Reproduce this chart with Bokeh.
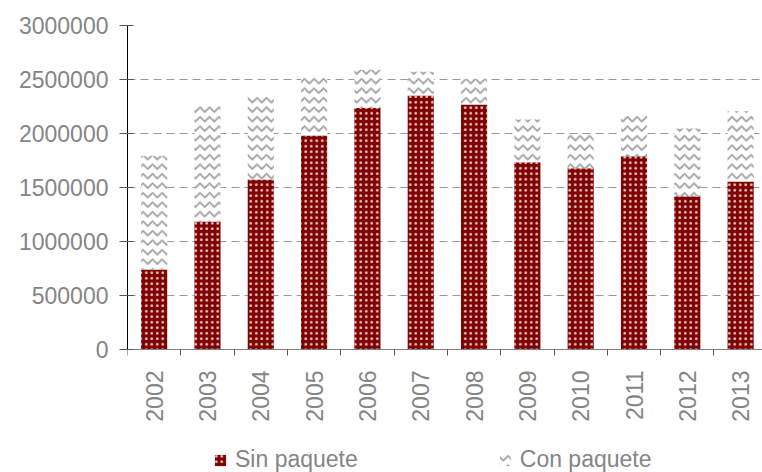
import math
from bokeh.plotting import figure
from bokeh.models import (ColumnDataSource, Range1d, FixedTicker, NumeralTickFormatter,
                          Legend, LegendItem, LinearAxis)
from bokeh.embed import file_html
from bokeh.resources import INLINE

years = ["2002", "2003", "2004", "2005", "2006", "2007",
         "2008", "2009", "2010", "2011", "2012", "2013"]
sin_paquete = [740000, 1185000, 1574000, 1981000, 2235000, 2352000,
               2269000, 1734000, 1679000, 1790000, 1420000, 1556000]
con_paquete = [1055000, 1090000, 784000, 553000, 355000, 219000,
               237000, 396000, 315000, 395000, 626000, 651000]
y_ticks = [0, 500000, 1000000, 1500000, 2000000, 2500000, 3000000]

xs = [i + 0.5 for i in range(len(years))]
totals = [a + b for a, b in zip(sin_paquete, con_paquete)]
src = ColumnDataSource(dict(x=xs, sin=sin_paquete, con=con_paquete, total=totals))

FONT = "Liberation Sans"
GRAY = "#858585"

# value axis: 3,000,000 spans 324 px; frame continues below 0 to hold labels and legend
Y_MAX = 3000000
Y_MIN = -Y_MAX * 123 / 324

p = figure(frame_width=635, frame_height=447, output_backend="svg", toolbar_location=None,
           x_range=Range1d(0, 11.91), y_range=Range1d(Y_MIN, Y_MAX),
           x_axis_location=None,
           min_border_left=127, min_border_top=25, min_border_right=0,
           min_border_bottom=0)
p.outline_line_color = None

r1 = p.vbar(x="x", width=0.49, bottom=0, top="sin", source=src,
            fill_color="#800000", line_color=None,
            hatch_pattern="dot", hatch_color="white", hatch_scale=5.5, hatch_weight=1,
            hatch_alpha=0.8)
r2 = p.vbar(x="x", width=0.49, bottom="sin", top="total", source=src,
            fill_color="white", line_color=None,
            hatch_pattern="horizontal_wave", hatch_color="#a0a0a0", hatch_scale=9.5, hatch_weight=1.8)

# y axis
p.yaxis.ticker = FixedTicker(ticks=y_ticks)
p.yaxis.bounds = (0, Y_MAX)
p.yaxis.formatter = NumeralTickFormatter(format="0")
p.yaxis.axis_line_color = "black"
p.yaxis.major_tick_line_color = "#555555"
p.yaxis.major_tick_out = 8
p.yaxis.major_tick_in = 6
p.yaxis.minor_tick_line_color = None
p.yaxis.major_label_standoff = 11
p.yaxis.major_label_text_font = FONT
p.yaxis.major_label_text_font_size = "23px"
p.yaxis.major_label_text_color = GRAY

# category axis fixed at value 0
xaxis = LinearAxis(fixed_location=0)
xaxis.ticker = FixedTicker(ticks=xs, minor_ticks=list(range(len(years) + 1)))
xaxis.major_label_overrides = {x: y for x, y in zip(xs, years)}
xaxis.major_label_orientation = math.pi / 2
xaxis.axis_line_color = "#808080"
xaxis.major_tick_out = 0
xaxis.major_tick_in = 0
xaxis.minor_tick_out = 6
xaxis.minor_tick_in = 0
xaxis.minor_tick_line_color = "#555555"
xaxis.major_label_standoff = 15
xaxis.major_label_text_font = FONT
xaxis.major_label_text_font_size = "23px"
xaxis.major_label_text_color = GRAY
p.add_layout(xaxis, "below")

p.xgrid.visible = False
p.ygrid.grid_line_color = "#999999"
p.ygrid.grid_line_dash = "8 5"
p.ygrid.grid_line_width = 1
p.ygrid.ticker = FixedTicker(ticks=y_ticks[1:])

legend = Legend(items=[LegendItem(label="Sin paquete", renderers=[r1]),
                       LegendItem(label="Con paquete", renderers=[r2])],
                orientation="horizontal", location=(86, -1),
                label_text_font=FONT, label_text_font_size="23px",
                label_text_color=GRAY, glyph_width=14, glyph_height=14,
                label_standoff=8, spacing=140, padding=0, margin=0,
                border_line_color=None, background_fill_alpha=0)
p.add_layout(legend, "center")

open("out.html", "w").write(file_html(p, INLINE))
